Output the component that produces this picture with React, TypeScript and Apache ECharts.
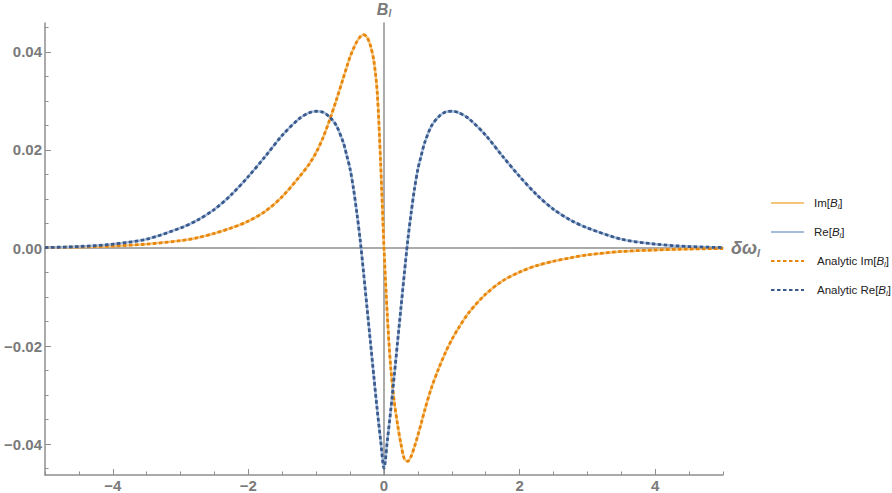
import React, { useEffect, useRef } from "react";
import * as echarts from "echarts";

const xValues = [
  -5, -4.5, -4, -3.5, -3, -2.75, -2.5, -2.25, -2, -1.75, -1.5, -1.25, -1.1, -1, -0.9, -0.8, -0.7, -0.6,
  -0.55, -0.5, -0.45, -0.4, -0.35, -0.3, -0.25, -0.2, -0.15, -0.1, -0.05, 0,
  0.05, 0.1, 0.15, 0.2, 0.25, 0.3, 0.35, 0.4, 0.45, 0.5, 0.55, 0.6, 0.7, 0.8, 0.9, 1, 1.1, 1.25,
  1.5, 1.75, 2, 2.25, 2.5, 2.75, 3, 3.5, 4, 4.5, 5,
];

// Re[B_l]
const reValues = [
  0.0001, 0.0003, 0.0008, 0.0018, 0.0041, 0.0057, 0.0079, 0.0109, 0.0146, 0.0187, 0.023, 0.0264, 0.0276, 0.0279, 0.0277, 0.0267, 0.0249, 0.0215,
  0.0189, 0.0161, 0.0121, 0.0071, 0.0015, -0.0052, -0.0122, -0.0192, -0.0262, -0.033, -0.0392, -0.0449,
  -0.0392, -0.033, -0.0262, -0.0192, -0.0122, -0.0052, 0.0015, 0.0071, 0.0121, 0.0161, 0.0189, 0.0215, 0.0249, 0.0267, 0.0277, 0.0279, 0.0276, 0.0264,
  0.023, 0.0187, 0.0146, 0.0109, 0.0079, 0.0057, 0.0041, 0.0018, 0.0008, 0.0003, 0.0001,
];

// Im[B_l]
const imValues = [
  0.0001, 0.0002, 0.0004, 0.0008, 0.0015, 0.0021, 0.003, 0.0041, 0.0055, 0.0075, 0.0105, 0.0145, 0.0172, 0.0195, 0.0225, 0.0262, 0.0303, 0.0347,
  0.0369, 0.039, 0.0407, 0.0421, 0.0431, 0.0435, 0.043, 0.0413, 0.0382, 0.0318, 0.0175, 0,
  -0.014, -0.0245, -0.0312, -0.036, -0.04, -0.043, -0.0435, -0.0425, -0.0405, -0.0382, -0.0357, -0.0331, -0.0285, -0.0248, -0.0215, -0.0187, -0.0163, -0.0132,
  -0.0094, -0.0067, -0.0049, -0.0036, -0.0027, -0.002, -0.0014, -0.0007, -0.0004, -0.0002, -0.0001,
];

const xMajorTicks = [-4, -2, 0, 2, 4];
const xMinorTicks = [-5, -4.5, -3.5, -3, -2.5, -1.5, -1, -0.5, 0.5, 1, 1.5, 2.5, 3, 3.5, 4.5, 5];
const yMajorTicks = [-0.04, -0.02, 0, 0.02, 0.04];
const yMinorTicks = [
  -0.045, -0.035, -0.03, -0.025, -0.015, -0.01, -0.005, 0.005, 0.01, 0.015, 0.025, 0.03, 0.035, 0.045,
];

const seriesNames = ["Im[B_l]", "Re[B_l]", "Analytic Im[B_l]", "Analytic Re[B_l]"];

const X_MIN = -5;
const X_MAX = 5;
const Y_MIN = -0.0463;
const Y_MAX = 0.0459;

const AXIS_GRAY = "#8f8f8f";
const LABEL_GRAY = "#7a7a7a";
const FONT = "Liberation Sans, Arial, sans-serif";

const pts = (vals: number[]) => xValues.map((x, i) => [x, vals[i]]);

const fmtX = (v: number) => (v < 0 ? "\u2212" + Math.abs(v) : String(v));
const fmtY = (v: number) => {
  if (Math.abs(v) < 1e-9) return "0.00";
  return (v < 0 ? "\u2212" : "") + Math.abs(v).toFixed(2);
};

export default function App() {
  const ref = useRef<HTMLDivElement>(null);

  useEffect(() => {
    if (!ref.current) return;
    const chart = echarts.init(ref.current, undefined, { renderer: "svg" });

    const labelStyle = {
      color: LABEL_GRAY,
      fontFamily: FONT,
      fontWeight: "bold" as const,
      fontSize: 15,
    };

    const nameRich = (size: number) => ({
      b: {
        fontFamily: FONT,
        fontStyle: "italic" as const,
        fontWeight: "bold" as const,
        fontSize: size,
        color: LABEL_GRAY,
        lineHeight: size + 2,
      },
      s: {
        fontFamily: FONT,
        fontStyle: "italic" as const,
        fontWeight: "bold" as const,
        fontSize: Math.round(size * 0.62),
        color: LABEL_GRAY,
        verticalAlign: "bottom" as const,
        lineHeight: Math.round(size * 0.5),
      },
    });

    const baseX = { type: "value" as const, min: X_MIN, max: X_MAX, gridIndex: 0 };
    const baseY = { type: "value" as const, min: Y_MIN, max: Y_MAX, gridIndex: 0 };

    const legendTextPad = (p: number) => ({ padding: [0, 0, 0, p] });

    const option: any = {
      animation: false,
      backgroundColor: "#ffffff",
      grid: {
        left: 45,
        right: 169,
        top: 23,
        bottom: 18,
        containLabel: false,
        outerBoundsMode: "none",
      },
      xAxis: [
        {
          ...baseX,
          position: "bottom",
          axisLine: { show: true, onZero: false, lineStyle: { color: AXIS_GRAY, width: 1.5 } },
          axisTick: {
            show: true,
            inside: true,
            length: 6,
            customValues: xMajorTicks,
            lineStyle: { color: AXIS_GRAY, width: 1 },
          },
          axisLabel: { ...labelStyle, margin: 3, customValues: xMajorTicks, formatter: fmtX },
          splitLine: { show: false },
        },
        {
          ...baseX,
          position: "bottom",
          axisLine: {
            show: true,
            onZero: true,
            onZeroAxisIndex: 0,
            lineStyle: { color: AXIS_GRAY, width: 1.5 },
          },
          axisTick: { show: false },
          axisLabel: { show: false },
          splitLine: { show: false },
          name: "{b|\u03b4\u03c9}{s|l}",
          nameLocation: "end",
          nameGap: 8,
          nameTextStyle: { rich: nameRich(18) },
        },
        {
          ...baseX,
          position: "bottom",
          axisLine: { show: false, onZero: false },
          axisTick: {
            show: true,
            inside: true,
            length: 3.5,
            customValues: xMinorTicks,
            lineStyle: { color: AXIS_GRAY, width: 1 },
          },
          axisLabel: { show: false },
          splitLine: { show: false },
        },
      ],
      yAxis: [
        {
          ...baseY,
          position: "left",
          axisLine: { show: true, onZero: false, lineStyle: { color: AXIS_GRAY, width: 1.5 } },
          axisTick: {
            show: true,
            inside: true,
            length: 6,
            customValues: yMajorTicks,
            lineStyle: { color: AXIS_GRAY, width: 1 },
          },
          axisLabel: { ...labelStyle, margin: 3, customValues: yMajorTicks, formatter: fmtY },
          splitLine: { show: false },
        },
        {
          ...baseY,
          position: "left",
          axisLine: {
            show: true,
            onZero: true,
            onZeroAxisIndex: 0,
            lineStyle: { color: AXIS_GRAY, width: 1.5 },
          },
          axisTick: { show: false },
          axisLabel: { show: false },
          splitLine: { show: false },
          name: "{b|B}{s|l}",
          nameLocation: "end",
          nameGap: 5,
          nameTextStyle: { rich: nameRich(16) },
        },
        {
          ...baseY,
          position: "left",
          axisLine: { show: false, onZero: false },
          axisTick: {
            show: true,
            inside: true,
            length: 3.5,
            customValues: yMinorTicks,
            lineStyle: { color: AXIS_GRAY, width: 1 },
          },
          axisLabel: { show: false },
          splitLine: { show: false },
        },
      ],
      legend: {
        orient: "vertical",
        left: 770,
        top: 196,
        padding: 0,
        itemWidth: 33,
        itemHeight: 14,
        itemGap: 15,
        selectedMode: false,
        itemStyle: { color: "rgba(0,0,0,0)", borderWidth: 0, opacity: 0 },
        data: [
          { name: seriesNames[0], textStyle: legendTextPad(5) },
          { name: seriesNames[1], textStyle: legendTextPad(5) },
          { name: seriesNames[2], textStyle: legendTextPad(8) },
          { name: seriesNames[3], textStyle: legendTextPad(8) },
        ],
        formatter: (name: string) => name.replace("B_l", "{i|B}{s|l}"),
        textStyle: {
          fontFamily: FONT,
          fontSize: 11.5,
          color: "#222222",
          lineHeight: 14,
          rich: {
            i: { fontFamily: FONT, fontSize: 11.5, fontStyle: "italic", color: "#222222", lineHeight: 14 },
            s: {
              fontFamily: FONT,
              fontSize: 7.5,
              fontStyle: "italic",
              color: "#222222",
              verticalAlign: "bottom",
              lineHeight: 7,
            },
          },
        },
      },
      series: [
        {
          name: seriesNames[0],
          type: "line",
          xAxisIndex: 0,
          yAxisIndex: 0,
          data: pts(imValues),
          symbol: "none",
          showSymbol: false,
          smooth: 0.3,
          lineStyle: { color: "#f5c57c", width: 2.4 },
          itemStyle: { color: "#f5c57c" },
          z: 2,
        },
        {
          name: seriesNames[1],
          type: "line",
          xAxisIndex: 0,
          yAxisIndex: 0,
          data: pts(reValues),
          symbol: "none",
          showSymbol: false,
          smooth: 0.3,
          lineStyle: { color: "#a5bcdc", width: 2.4 },
          itemStyle: { color: "#a5bcdc" },
          z: 2,
        },
        {
          name: seriesNames[2],
          type: "line",
          xAxisIndex: 0,
          yAxisIndex: 0,
          data: pts(imValues),
          symbol: "none",
          showSymbol: false,
          smooth: 0.3,
          lineStyle: { color: "#e8860c", width: 2.8, type: [3.5, 2.5] },
          itemStyle: { color: "#e8860c" },
          z: 3,
        },
        {
          name: seriesNames[3],
          type: "line",
          xAxisIndex: 0,
          yAxisIndex: 0,
          data: pts(reValues),
          symbol: "none",
          showSymbol: false,
          smooth: 0.3,
          lineStyle: { color: "#3a5a8c", width: 2.8, type: [3.5, 2.5] },
          itemStyle: { color: "#3a5a8c" },
          z: 3,
        },
      ],
    };

    chart.setOption(option);
    return () => {
      chart.dispose();
    };
  }, []);

  return (
    <div
      ref={ref}
      style={{ position: "absolute", left: 0, top: 0, width: 892, height: 493, background: "#fff" }}
    />
  );
}
